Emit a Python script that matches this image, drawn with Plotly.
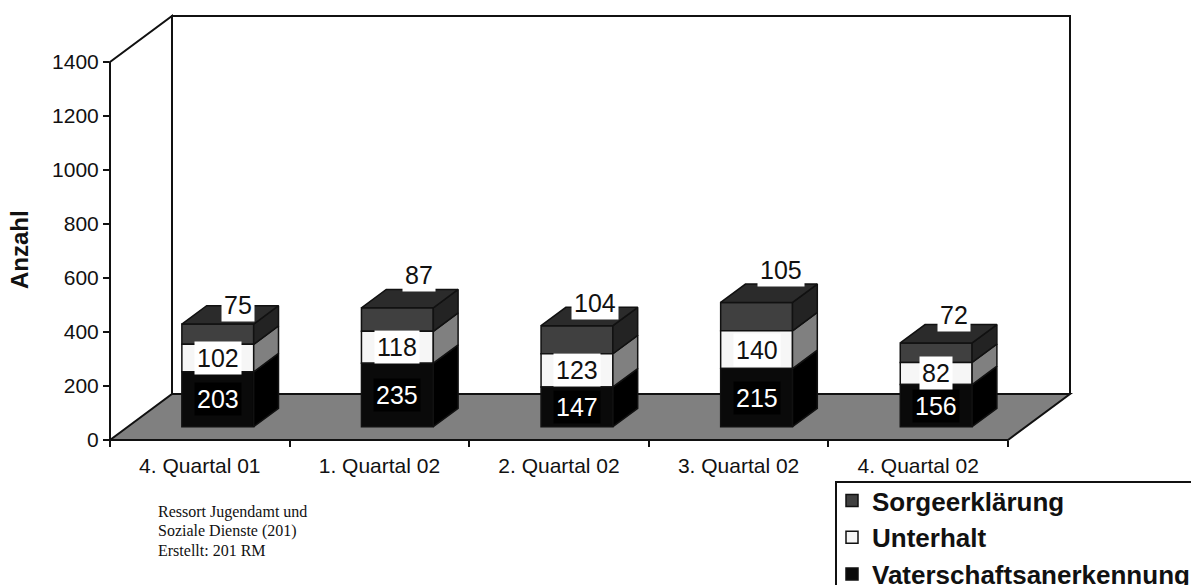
import plotly.graph_objects as go

categories = ["4. Quartal 01", "1. Quartal 02", "2. Quartal 02", "3. Quartal 02", "4. Quartal 02"]
vaterschaft = [203, 235, 147, 215, 156]
unterhalt = [102, 118, 123, 140, 82]
sorge = [75, 87, 104, 105, 72]
y_ticks = [0, 200, 400, 600, 800, 1000, 1200, 1400]
note_lines = ["Ressort Jugendamt und", "Soziale Dienste (201)", "Erstellt: 201 RM"]

# pixel geometry of the pseudo-3D frame
L, B, R, T = 110, 440, 1070, 16
W, H = 1191, 585
CAT_PX = 179.6
VAL_PX = 0.27
DEPTH_X, DEPTH_Y = 62, 46
FRONT = 0.29
BAR_DEPTH = 0.40
BAR_W = 0.40

dx = lambda px: px / CAT_PX
dy = lambda px: px / VAL_PX
xmax = -0.5 + dx(R - L)
ymax = dy(B - T)

series = [
    ("Vaterschaftsanerkennung", vaterschaft, "#0a0a0a", "#000000", "#000000"),
    ("Unterhalt", unterhalt, "#f6f6f6", "#808080", "#808080"),
    ("Sorgeerklärung", sorge, "#404040", "#232323", "#2b2b2b"),
]

off_x = dx(DEPTH_X * FRONT)
off_y = dy(DEPTH_Y * FRONT)
side_x = dx(DEPTH_X * BAR_DEPTH)
side_y = dy(DEPTH_Y * BAR_DEPTH)

fig = go.Figure()
edge = dict(color="#111111", width=1.5)

# running bases of each stacked segment
bases = []
cum = [0] * len(categories)
for _, vals, *_rest in series:
    bases.append(list(cum))
    cum = [c + v for c, v in zip(cum, vals)]
totals = cum

# front faces, added top series first so the legend lists it first
for (name, vals, front, side, top), base in reversed(list(zip(series, bases))):
    fig.add_trace(go.Bar(
        x=[i + off_x for i in range(len(vals))], y=vals,
        base=[c + off_y for c in base], width=BAR_W, name=name,
        legendgroup=name, marker=dict(color=front, line=edge), hoverinfo="skip",
    ))

# side faces
for (name, vals, front, side, top), base in zip(series, bases):
    for i, v in enumerate(vals):
        x0 = i + off_x + BAR_W / 2
        y0, y1 = base[i] + off_y, base[i] + off_y + v
        fig.add_trace(go.Scatter(
            x=[x0, x0 + side_x, x0 + side_x, x0, x0],
            y=[y0, y0 + side_y, y1 + side_y, y1, y0],
            mode="lines", fill="toself", fillcolor=side, line=edge,
            showlegend=False, hoverinfo="skip",
        ))

# top faces
for i, tot in enumerate(totals):
    x0 = i + off_x - BAR_W / 2
    y1 = tot + off_y
    fig.add_trace(go.Scatter(
        x=[x0, x0 + BAR_W, x0 + BAR_W + side_x, x0 + side_x, x0],
        y=[y1, y1, y1 + side_y, y1 + side_y, y1],
        mode="lines", fill="toself", fillcolor=series[2][4], line=edge,
        showlegend=False, hoverinfo="skip",
    ))

LABEL = dict(family="Liberation Sans, Arial", size=25)
annotations = []
for i in range(len(categories)):
    annotations.append(dict(x=i + off_x, y=off_y + vaterschaft[i] / 2, text=str(vaterschaft[i]),
                            showarrow=False, bgcolor="#000000", borderpad=2,
                            font=dict(LABEL, color="#ffffff")))
    annotations.append(dict(x=i + off_x, y=off_y + vaterschaft[i] + unterhalt[i] / 2, text=str(unterhalt[i]),
                            showarrow=False, bgcolor="#ffffff", borderpad=2,
                            font=dict(LABEL, color="#111111")))
# top-segment labels sit above the box, each nudged as in the source chart
top_nudge = [(20, 19), (22, 33), (18, 23), (24, 32), (18, 28)]
for i, (nx, ny) in enumerate(top_nudge):
    annotations.append(dict(x=i + off_x + dx(nx), y=off_y + totals[i] + dy(ny), text=str(sorge[i]),
                            showarrow=False, bgcolor="#ffffff", borderpad=2,
                            font=dict(LABEL, color="#111111")))

annotations.append(dict(xref="paper", yref="paper", x=(20 - L) / (R - L), y=(B - 250) / (B - T),
                        xanchor="center", yanchor="middle",
                        text="<b>Anzahl</b>", textangle=-90, showarrow=False,
                        font=dict(family="Liberation Sans, Arial", size=24, color="#111111")))
for line, py in zip(note_lines, [512, 531, 550]):
    annotations.append(dict(xref="paper", yref="paper", x=(156 - L) / (R - L), y=(B - py) / (B - T),
                            xanchor="left", yanchor="middle", align="left", text=line, showarrow=False,
                            font=dict(family="Liberation Serif, Times New Roman", size=16, color="#111111")))


def path(points):
    pts = [((px - L) / (R - L), (B - py) / (B - T)) for px, py in points]
    return "M" + " L".join(f"{a:.5f} {b:.5f}" for a, b in pts)


xr = L + 5 * CAT_PX
frame = dict(xref="paper", yref="paper", type="path", layer="below", line=dict(color="#111111", width=2))
shapes = [
    dict(frame, path=path([(L, B), (L + DEPTH_X, B - DEPTH_Y), (R, B - DEPTH_Y), (xr, B)]) + " Z", fillcolor="#808080"),
    dict(frame, path=path([(L, B), (L, B - 1400 * VAL_PX), (L + DEPTH_X, T), (L + DEPTH_X, B - DEPTH_Y)])),
    dict(frame, path=path([(L + DEPTH_X, B - DEPTH_Y), (L + DEPTH_X, T), (R, T), (R, B - DEPTH_Y)])),
    # legend frame, open past the picture's right and bottom edges
    dict(frame, path=path([(836, H + 5), (836, 482), (W + 5, 482)])),
]

tick_font = dict(family="Liberation Sans, Arial", size=21, color="#111111")
fig.update_layout(
    width=W, height=H, autosize=False,
    margin=dict(l=L, r=W - R, t=T, b=H - B, pad=0, autoexpand=False),
    paper_bgcolor="white", plot_bgcolor="white", barmode="overlay",
    showlegend=True,
    legend=dict(x=(832 - L) / (R - L), y=(B - 477) / (B - T), xanchor="left", yanchor="top",
                traceorder="grouped", tracegroupgap=0, itemclick=False, itemdoubleclick=False,
                borderwidth=0, bgcolor="rgba(0,0,0,0)",
                font=dict(family="Liberation Sans, Arial", size=26, color="#111111", weight="bold")),
    xaxis=dict(range=[-0.5, xmax], showgrid=False, zeroline=False, showline=False,
               tickmode="array", tickvals=list(range(5)), ticktext=categories,
               ticks="outside", ticklen=7, tickcolor="rgba(0,0,0,0)", tickfont=tick_font,
               minor=dict(tickmode="array", tickvals=[i - 0.5 for i in range(6)], ticks="outside",
                          ticklen=6, tickwidth=2, tickcolor="#111111", showgrid=False)),
    yaxis=dict(range=[0, ymax], showgrid=False, zeroline=False, showline=False,
               tickmode="array", tickvals=y_ticks, ticks="outside", ticklen=6, tickwidth=2,
               tickcolor="#111111", tickfont=tick_font),
    shapes=shapes, annotations=annotations,
)
fig.write_html("out.html", config={"displayModeBar": False},
               post_script="document.body.style.margin='0';")
